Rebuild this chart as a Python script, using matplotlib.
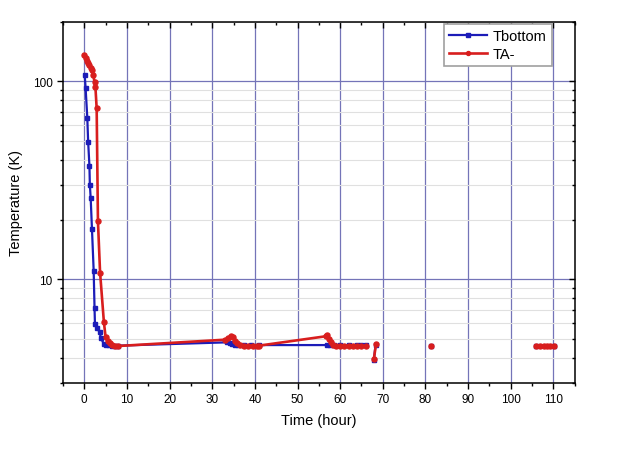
import numpy as np
import matplotlib
matplotlib.use("Agg")
import matplotlib.pyplot as plt
from matplotlib.ticker import LogLocator, NullFormatter, FixedLocator, MultipleLocator

plt.rcParams['font.family'] = ['Liberation Sans', 'DejaVu Sans']

nan = np.nan

# Tbottom (blue)
t_bottom = [0.1, 0.3, 0.7, 0.9, 1.2, 1.3, 1.5, 1.8, 2.2, 2.4, 2.5, 3.0, 3.6, 3.9, 4.6,
            5.2, 5.8, 6.5, 7.2, 8.0, 33.5, 34.2, 34.7, 35.3, 36.0, 37.5, 39.0, 41.0,
            57.0, 57.6, 58.5, 60.0, 62.0, 64.0, 65.0, nan, 66.0, nan, 67.9, 68.3, nan,
            81.4, nan, 105.9, 110.2]
T_bottom = [107, 93, 65.6, 49.6, 37.5, 30.1, 25.6, 17.9, 11.0, 7.14, 5.93, 5.66, 5.41,
            5.04, 4.70, 4.65, 4.65, 4.62, 4.62, 4.62, 4.80, 4.75, 4.70, 4.65, 4.65, 4.65,
            4.65, 4.65, 4.65, 4.65, 4.65, 4.65, 4.65, 4.65, 4.65, nan, 4.65, nan, 3.92,
            4.65, nan, 4.62, nan, 4.62, 4.62]

# TA- (red)
t_a = [0.0, 0.3, 0.6, 0.9, 1.2, 1.5, 1.8, 2.1, 2.4, 2.6, 2.9, 3.2, 3.7, 4.6, 5.0,
       5.5, 6.0, 6.6, 7.2, 8.0, 33.0, 33.8, 34.3, 34.8, 35.3, 35.8, 36.5, 37.5, 38.5,
       39.5, 40.5, 41.0, 56.6, 57.0, 57.4, 57.8, 58.3, 59.0, 60.0, 61.0, 62.0, 63.0,
       64.0, 65.0, nan, 66.0, nan, 67.9, 68.4, nan, 81.4, nan, 105.9, 106.8, 107.7,
       108.5, 109.3, 110.2]
T_a = [136, 131, 127, 124, 121, 117, 114, 108, 99, 94, 73, 19.6, 10.8, 6.05, 5.1,
       4.85, 4.75, 4.68, 4.62, 4.60, 4.95, 5.05, 5.18, 5.10, 4.90, 4.75, 4.65, 4.62,
       4.60, 4.60, 4.60, 4.62, 5.15, 5.20, 5.00, 4.80, 4.65, 4.60, 4.60, 4.60, 4.60,
       4.60, 4.60, 4.60, nan, 4.62, nan, 3.95, 4.70, nan, 4.60, nan, 4.60, 4.60, 4.60,
       4.60, 4.60, 4.60]

blue = '#1c1cb8'
red = '#d81e1e'
grid_major = '#7474b8'
grid_minor = '#e0e0e0'

fig = plt.figure(figsize=(6.4, 4.52), dpi=100)
ax = fig.add_axes([0.0984, 0.151, 0.7996, 0.7988])

ax.plot(t_bottom, T_bottom, color=blue, lw=1.6, marker='s', ms=3.4, label='Tbottom')
ax.plot(t_a, T_a, color=red, lw=1.9, marker='o', ms=3.6, label='TA-')

ax.set_yscale('log')
ax.set_xlim(-5, 115)
ax.set_ylim(3, 200)

ax.xaxis.set_major_locator(MultipleLocator(10))
ax.xaxis.set_minor_locator(MultipleLocator(5))
ax.yaxis.set_major_locator(FixedLocator([10, 100]))
ax.yaxis.set_major_formatter(matplotlib.ticker.FuncFormatter(lambda v, p: f'{v:g}'))
ax.yaxis.set_minor_locator(LogLocator(base=10, subs=np.arange(2, 10)))
ax.yaxis.set_minor_formatter(NullFormatter())

ax.set_axisbelow(True)
ax.grid(True, which='major', axis='x', color=grid_major, lw=0.9)
ax.grid(True, which='major', axis='y', color=grid_major, lw=0.9)
ax.grid(True, which='minor', axis='y', color=grid_minor, lw=0.8)

ax.tick_params(which='both', direction='out', labelsize=8.5, width=1)
ax.tick_params(which='major', length=4)
ax.tick_params(which='minor', length=2.5)
# inward ticks on the opposite sides
ax.tick_params(which='both', top=True, right=True)
for t in ax.xaxis.get_major_ticks() + ax.xaxis.get_minor_ticks():
    t.tick2line.set_marker(matplotlib.lines.TICKDOWN)
for t in ax.yaxis.get_major_ticks() + ax.yaxis.get_minor_ticks():
    t.tick2line.set_marker(matplotlib.lines.TICKLEFT)
for s in ax.spines.values():
    s.set_linewidth(1.1)

ax.set_xlabel('Time (hour)', fontsize=10.5, labelpad=6)
ax.set_ylabel('Temperature (K)', fontsize=10.5, labelpad=7)

leg = ax.legend(loc='upper right', bbox_to_anchor=(0.955, 0.994), borderaxespad=0,
                fontsize=10.5, fancybox=False, framealpha=1, edgecolor='#a0a0a0',
                handlelength=2.6, borderpad=0.35, labelspacing=0.25, handletextpad=0.4,
                markerscale=0.8)
leg.get_frame().set_linewidth(1.2)

fig.savefig('out.png', dpi=100)
